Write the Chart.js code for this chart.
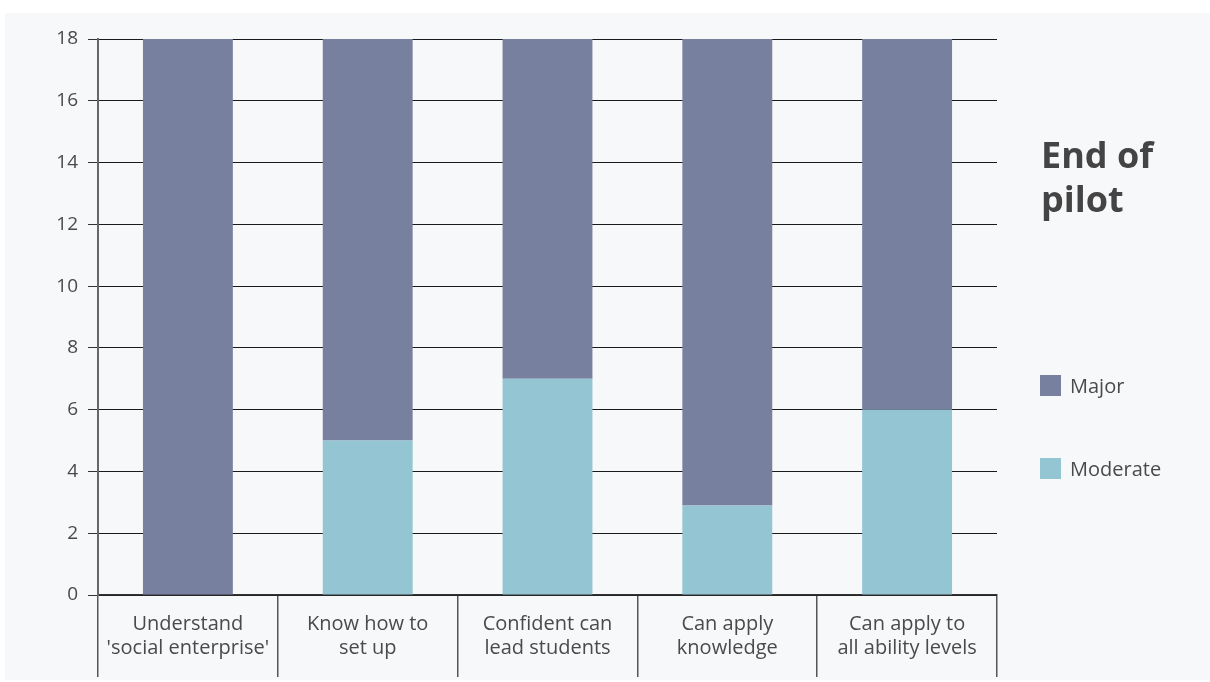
<!DOCTYPE html>
<html>
<head>
<meta charset="utf-8">
<script src="https://cdn.jsdelivr.net/npm/chart.js@4/dist/chart.umd.min.js"></script>
<style>
  html, body { margin: 0; padding: 0; background: #ffffff; }
  canvas { display: block; }
</style>
</head>
<body>
<canvas id="c" width="1210" height="682"></canvas>
<script>
const categories = [
  ['Understand', "'social enterprise'"],
  ['Know how to', 'set up'],
  ['Confident can', 'lead students'],
  ['Can apply', 'knowledge'],
  ['Can apply to', 'all ability levels']
];
const moderateValues = [0, 5, 7, 2.9, 6];
const majorValues = [18, 13, 11, 15.1, 12];
const seriesNames = ['Major', 'Moderate'];
const titleLines = ['End of', 'pilot'];
const yTicks = [0, 2, 4, 6, 8, 10, 12, 14, 16, 18];

const COL_MAJOR = '#78809f';
const COL_MOD = '#93c5d3';
const TEXT = '#4a4a4a';
const FONT = "'Open Sans', 'Noto Sans', sans-serif";

const panelBg = {
  id: 'panelBg',
  beforeDraw(chart) {
    const ctx = chart.ctx;
    ctx.save();
    ctx.fillStyle = '#f7f8fa';
    ctx.fillRect(5, 13, 1205, 667);
    ctx.restore();
  }
};

const sideLegend = {
  id: 'sideLegend',
  afterDraw(chart) {
    const ctx = chart.ctx;
    ctx.save();
    ctx.fillStyle = '#444444';
    ctx.font = "bold 36px " + FONT;
    ctx.textBaseline = 'alphabetic';
    ctx.textAlign = 'left';
    ctx.fillText(titleLines[0], 1041, 168);
    ctx.fillText(titleLines[1], 1041, 212);
    const items = [
      { name: seriesNames[0], color: chart.data.datasets[1].backgroundColor, y: 375 },
      { name: seriesNames[1], color: chart.data.datasets[0].backgroundColor, y: 458 }
    ];
    ctx.font = "20px " + FONT;
    ctx.textBaseline = 'middle';
    items.forEach(it => {
      ctx.fillStyle = it.color;
      ctx.fillRect(1040, it.y, 21, 21);
      ctx.fillStyle = TEXT;
      ctx.fillText(it.name, 1070, it.y + 12.5);
    });
    ctx.restore();
  }
};

new Chart(document.getElementById('c'), {
  type: 'bar',
  data: {
    labels: categories,
    datasets: [
      { label: seriesNames[1], data: moderateValues, backgroundColor: COL_MOD, barPercentage: 0.5, categoryPercentage: 1.0, borderWidth: 0 },
      { label: seriesNames[0], data: majorValues, backgroundColor: COL_MAJOR, barPercentage: 0.5, categoryPercentage: 1.0, borderWidth: 0 }
    ]
  },
  options: {
    responsive: false,
    animation: false,
    layout: { padding: { left: 0, right: 213, top: 39, bottom: 0 } },
    plugins: { legend: { display: false }, tooltip: { enabled: false } },
    scales: {
      x: {
        stacked: true,
        afterFit(scale) { scale.height = 87; },
        grid: { display: true, offset: true, drawOnChartArea: false, drawTicks: true, tickLength: 82, color: '#555555', lineWidth: 1.5 },
        border: { display: true, color: '#333333', width: 1.5 },
        ticks: { color: TEXT, font: { family: FONT, size: 20 }, padding: -65, maxRotation: 0, autoSkip: false }
      },
      y: {
        stacked: true,
        min: 0,
        max: 18,
        afterFit(scale) { scale.width = 98; },
        afterBuildTicks(scale) { scale.ticks = yTicks.map(v => ({ value: v })); },
        grid: { color: '#1a1a1a', lineWidth: 1, drawTicks: true, tickLength: 10, tickColor: '#333333' },
        border: { display: true, color: '#666666', width: 2 },
        ticks: { color: TEXT, font: { family: FONT, size: 19 }, padding: 10 }
      }
    }
  },
  plugins: [panelBg, sideLegend]
});
</script>
</body>
</html>
